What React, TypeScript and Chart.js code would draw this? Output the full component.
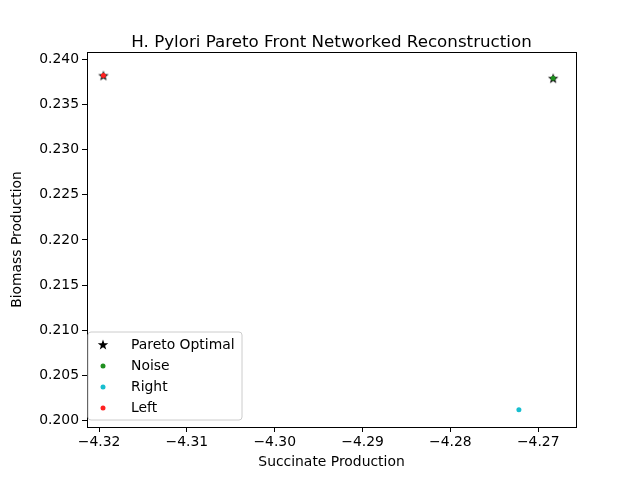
import React, { useEffect, useRef } from "react";
import { Chart, registerables } from "chart.js";
Chart.register(...registerables);

const paretoX = [-4.3195, -4.2683];
const paretoY = [0.2382, 0.2379];
const noiseX = [-4.2683];
const noiseY = [0.2379];
const rightX = [-4.2722];
const rightY = [0.2012];
const leftX = [-4.3195];
const leftY = [0.2382];
const xTicks = [-4.32, -4.31, -4.3, -4.29, -4.28, -4.27];
const yTicks = [0.2, 0.205, 0.21, 0.215, 0.22, 0.225, 0.23, 0.235, 0.24];
const legendLabels = ["Pareto Optimal", "Noise", "Right", "Left"];
const colors = ["black", "#1f8f1f", "#17becf", "#ff2020"];

const FONT = "'DejaVu Sans', sans-serif";

function starPath(ctx: CanvasRenderingContext2D, x: number, y: number, r: number) {
  ctx.beginPath();
  for (let i = 0; i < 10; i++) {
    const rr = i % 2 === 0 ? r : r * 0.4;
    const a = -Math.PI / 2 + (i * Math.PI) / 5;
    const px = x + rr * Math.cos(a), py = y + rr * Math.sin(a);
    if (i === 0) ctx.moveTo(px, py); else ctx.lineTo(px, py);
  }
  ctx.closePath();
}

function makeStar(): HTMLCanvasElement {
  const c = document.createElement("canvas");
  c.width = 12; c.height = 12;
  const ctx = c.getContext("2d")!;
  starPath(ctx, 6, 6.5, 5.5);
  ctx.fillStyle = "black";
  ctx.fill();
  return c;
}

const pts = (xs: number[], ys: number[]) => xs.map((x, i) => ({ x, y: ys[i] }));
const minus = (s: string) => s.replace("-", "\u2212");

export default function App() {
  const ref = useRef<HTMLCanvasElement>(null);
  useEffect(() => {
    document.body.style.margin = "0";
    const star = makeStar();
    const frame = {
      id: "frame",
      afterDraw(chart: any) {
        const { ctx, chartArea: a } = chart;
        ctx.save();
        ctx.strokeStyle = "black";
        ctx.lineWidth = 1;
        ctx.strokeRect(a.left + 0.5, a.top + 0.5, a.right - a.left, a.bottom - a.top);
        ctx.fillStyle = "black";
        ctx.font = `16.7px ${FONT}`;
        ctx.textAlign = "center";
        ctx.textBaseline = "middle";
        ctx.fillText("H. Pylori Pareto Front Networked Reconstruction", (a.left + a.right) / 2, 43);
        ctx.font = `13.9px ${FONT}`;
        ctx.fillText("Succinate Production", (a.left + a.right) / 2, 462);
        ctx.save();
        ctx.translate(17, (a.top + a.bottom) / 2);
        ctx.rotate(-Math.PI / 2);
        ctx.fillText("Biomass Production", 0, 0);
        ctx.restore();
        // legend
        const lx = a.left + 1, ly = a.bottom - 95, lw = 154, lh = 88;
        ctx.fillStyle = "rgba(255,255,255,0.8)";
        ctx.strokeStyle = "#cccccc";
        ctx.beginPath();
        ctx.roundRect(lx, ly, lw, lh, 3);
        ctx.fill(); ctx.stroke();
        ctx.textAlign = "left";
        legendLabels.forEach((t, i) => {
          const cy = ly + 13 + i * 21;
          const cx = lx + 15;
          if (i === 0) {
            starPath(ctx, cx, cy, 5.5);
            ctx.fillStyle = "black"; ctx.fill();
          } else {
            ctx.beginPath(); ctx.arc(cx, cy, 2.5, 0, Math.PI * 2);
            ctx.fillStyle = colors[i]; ctx.fill();
          }
          ctx.fillStyle = "black";
          ctx.fillText(t, lx + 43, cy);
        });
        ctx.restore();
      },
    };
    const chart = new Chart(ref.current!, {
      type: "scatter",
      data: {
        datasets: [
          { label: legendLabels[0], data: pts(paretoX, paretoY), pointStyle: star as any, pointRadius: 6, order: 10 },
          { label: legendLabels[1], data: pts(noiseX, noiseY), backgroundColor: colors[1], borderWidth: 0, pointRadius: 2.5, order: 3 },
          { label: legendLabels[2], data: pts(rightX, rightY), backgroundColor: colors[2], borderWidth: 0, pointRadius: 2.5, order: 2 },
          { label: legendLabels[3], data: pts(leftX, leftY), backgroundColor: colors[3], borderWidth: 0, pointRadius: 2.5, order: 1 },
        ],
      },
      options: {
        animation: false,
        responsive: false,
        devicePixelRatio: 1,
        layout: { padding: { top: 52, right: 64, left: 0, bottom: 0 } },
        plugins: { legend: { display: false }, title: { display: false }, tooltip: { enabled: false } },
        scales: {
          x: {
            type: "linear", min: -4.32137, max: -4.2657,
            afterFit: (s: any) => { s.height = 53; },
            afterBuildTicks: (s: any) => { s.ticks = xTicks.map((v) => ({ value: v })); },
            ticks: { color: "black", font: { family: FONT, size: 13.9 }, padding: 2, maxRotation: 0,
              callback: (v: any) => minus(Number(v).toFixed(2)) },
            grid: { drawOnChartArea: false, color: "black", tickLength: 5 },
            border: { display: false },
          },
          y: {
            type: "linear", min: 0.1993, max: 0.2408,
            afterFit: (s: any) => { s.width = 87; },
            afterBuildTicks: (s: any) => { s.ticks = yTicks.map((v) => ({ value: v })); },
            ticks: { color: "black", font: { family: FONT, size: 13.9 }, padding: 3,
              callback: (v: any) => Number(v).toFixed(3) },
            grid: { drawOnChartArea: false, color: "black", tickLength: 5 },
            border: { display: false },
          },
        },
      },
      plugins: [frame],
    });
    return () => chart.destroy();
  }, []);
  return <canvas ref={ref} width={640} height={480} />;
}
